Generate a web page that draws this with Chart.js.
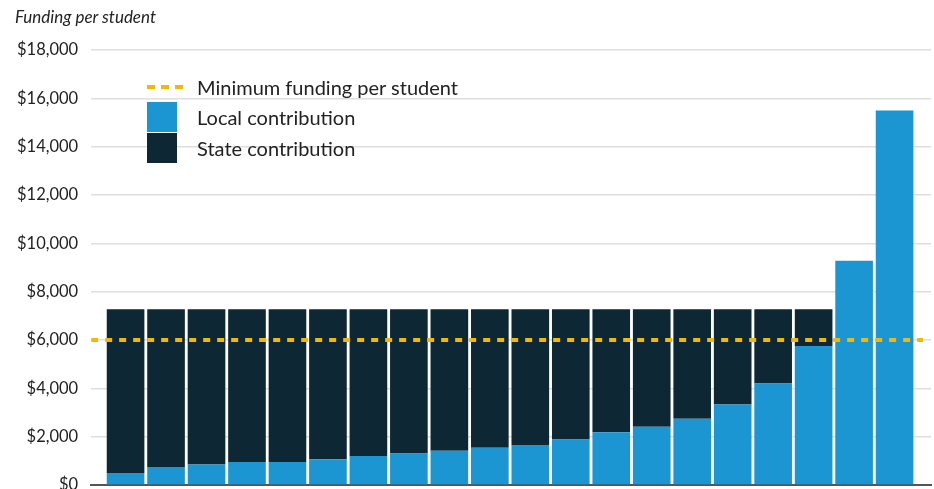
<!DOCTYPE html>
<html>
<head>
<meta charset="utf-8">
<script src="https://cdn.jsdelivr.net/npm/chart.js@4"></script>
<style>
  html, body { margin: 0; padding: 0; background: #fff; overflow: hidden; }
  #wrap { position: relative; width: 934px; height: 508px; }
  #title {
    position: absolute; left: 15px; top: 6px;
    font-family: Lato, sans-serif; font-style: italic; font-size: 17px; color: #222;
  }
  #legend {
    position: absolute; left: 147px; top: 73px;
    font-family: Lato, "Open Sans", sans-serif; font-size: 20px; color: #222;
  }
  #legend .row { display: flex; align-items: center; height: 31px; }
  #legend .row:first-child { height: 28px; }
  #legend .dash { width: 36px; height: 0; border-top: 4px dashed #f6b700; margin-right: 14px; }
  #legend .box { width: 30px; height: 30px; margin-right: 20px; margin-top: 1px; }
</style>
</head>
<body>
<div id="wrap">
  <canvas id="chart"></canvas>
  <div id="title">Funding per student</div>
  <div id="legend">
    <div class="row"><span class="dash"></span>Minimum funding per student</div>
    <div class="row"><span class="box" style="background:#1b96d3"></span>Local contribution</div>
    <div class="row"><span class="box" style="background:#0e2735"></span>State contribution</div>
  </div>
</div>
<script>
// districts, ordered by local contribution
const districts = [0, 1, 2, 3, 4, 5, 6, 7, 8, 9, 10, 11, 12, 13, 14, 15, 16, 17, 18, 19];
const localFunding = [500, 750, 850, 960, 960, 1070, 1200, 1310, 1420, 1540,
                      1660, 1890, 2190, 2410, 2750, 3330, 4200, 5750, 9280, 15500];
const stateFunding = [6780, 6530, 6430, 6320, 6320, 6210, 6080, 5970, 5860, 5740,
                      5620, 5390, 5090, 4870, 4530, 3950, 3080, 1530, 0, 0];
const minimumFunding = 6000;
const yTicks = [0, 2000, 4000, 6000, 8000, 10000, 12000, 14000, 16000, 18000];

const xMin = -0.85, xMax = 19.9;

new Chart(document.getElementById("chart"), {
    data: {
        datasets: [
            {
                type: "bar",
                label: "Local contribution",
                data: districts.map((d, i) => ({ x: d, y: localFunding[i] })),
                backgroundColor: "#1b96d3",
                borderWidth: 0,
                barPercentage: 0.93,
                categoryPercentage: 1,
                order: 2
            },
            {
                type: "bar",
                label: "State contribution",
                data: districts.map((d, i) => ({ x: d, y: stateFunding[i] })),
                backgroundColor: "#0e2735",
                borderWidth: 0,
                barPercentage: 0.93,
                categoryPercentage: 1,
                order: 2
            },
            {
                type: "line",
                label: "Minimum funding per student",
                stack: "min",
                data: [{ x: xMin, y: minimumFunding }, { x: 19.7, y: minimumFunding }],
                borderColor: "#f6b700",
                borderWidth: 4,
                borderDash: [7, 7],
                pointRadius: 0,
                order: 1
            }
        ]
    },
    options: {
        responsive: true,
        maintainAspectRatio: false,
        animation: false,
        layout: { padding: { left: 4, right: 3, top: 50, bottom: 0 } },
        plugins: {
            legend: { display: false },
            tooltip: { enabled: false }
        },
        scales: {
            x: {
                type: "linear",
                stacked: true,
                offset: false,
                min: xMin,
                max: xMax,
                grid: { display: false },
                ticks: { display: false },
                border: { display: true, color: "#555", width: 2 }
            },
            y: {
                stacked: true,
                min: 0,
                max: 18000,
                afterBuildTicks: axis => { axis.ticks = yTicks.map(v => ({ value: v })); },
                grid: { color: "#dedede", lineWidth: 1.5, drawTicks: false },
                border: { display: false },
                ticks: {
                    padding: 13,
                    color: "#222",
                    font: { family: "Lato", size: 16.5 },
                    callback: v => "$" + v.toLocaleString("en-US")
                }
            }
        }
    }
});
</script>
</body>
</html>
